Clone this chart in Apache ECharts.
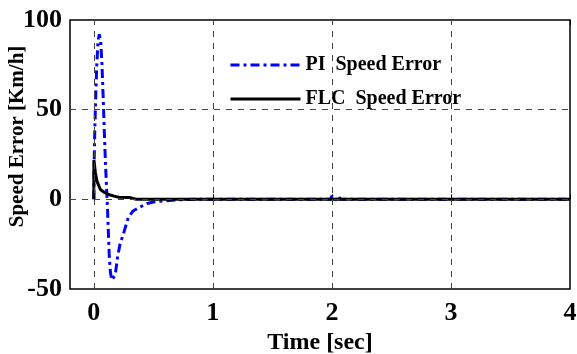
<!DOCTYPE html>
<html><head><meta charset="utf-8">
<script src="https://cdn.jsdelivr.net/npm/echarts@6/dist/echarts.min.js"></script>
<style>html,body{margin:0;padding:0;background:#fff}#c{width:577px;height:354px}</style>
</head><body><div id="c"></div>
<script>
const piTime  = [0, 0.003, 0.008, 0.015, 0.025, 0.035, 0.046, 0.058, 0.068, 0.078, 0.088, 0.098, 0.108, 0.115, 0.122, 0.13, 0.14, 0.152, 0.166, 0.18, 0.2, 0.22, 0.25, 0.29, 0.33, 0.38, 0.45, 0.5, 0.6, 0.7, 0.85, 1.0, 1.5, 1.99, 2.0, 2.01, 2.05, 2.06, 2.07, 2.5, 3.0, 3.5, 4.0];
const piValue = [0, 20, 38, 55, 75, 88, 92, 88, 76, 58, 38, 20, 5, -5, -18, -32, -41, -45, -46, -42, -32, -25, -19, -10, -6.5, -4.5, -2.3, -1.5, -0.8, -0.3, 0, 0, 0, 0, 2, 0, 0, 1.5, 0, 0, 0, 0, 0];
const flcTime  = [0, 0.001, 0.006, 0.013, 0.027, 0.055, 0.09, 0.125, 0.17, 0.21, 0.3, 0.33, 0.36, 0.5, 1.0, 1.99, 2.0, 2.01, 3.0, 4.0];
const flcValue = [0, 22, 19, 15, 10, 5.5, 3.8, 2.7, 1.8, 1.2, 1.0, 0.5, 0, 0, 0, 0, 0.8, 0, 0, 0];
const xTicks = [0, 1, 2, 3, 4];
const xGrid = [0, 1, 2, 3];
const yGrid = [0, 50];
const seriesNames = ['PI  Speed Error', 'FLC  Speed Error'];

const font = "'Liberation Serif','Times New Roman',serif";
const zip = (a, b) => a.map((v, i) => [v, b[i]]);
const chart = echarts.init(document.getElementById('c'));
const gridStyle = { color: '#444', type: [6, 6], width: 1 };
chart.setOption({
  animation: false,
  grid: { left: 70, right: 7, top: 20, bottom: 65, outerBoundsMode: 'none', containLabel: false, show: true, borderColor: '#000', borderWidth: 1.5, backgroundColor: 'transparent' },
  legend: {
    orient: 'vertical', left: 224, top: 50, itemGap: 14, itemWidth: 70, itemHeight: 20,
    itemStyle: { opacity: 0, borderWidth: 0 },
    lineStyle: { width: 3 },
    textStyle: { fontFamily: font, fontWeight: 'bold', fontSize: 20, color: '#000' },
    data: seriesNames
  },
  xAxis: [{
    type: 'value', min: -0.2, max: 4,
    name: 'Time [sec]', nameLocation: 'middle', nameGap: 36,
    nameTextStyle: { fontFamily: font, fontWeight: 'bold', fontSize: 24, color: '#000' },
    axisLine: { show: false },
    axisTick: { inside: true, length: 5, lineStyle: { color: '#000' }, customValues: xTicks },
    axisLabel: { customValues: xTicks, margin: 11, fontFamily: font, fontWeight: 'bold', fontSize: 26, color: '#000' },
    splitLine: { show: false }
  }, {
    type: 'value', min: -0.2, max: 4, position: 'top',
    axisLine: { show: false },
    axisTick: { inside: true, length: 5, lineStyle: { color: '#000' }, customValues: xTicks },
    axisLabel: { show: false },
    splitLine: { show: false }
  }],
  yAxis: {
    type: 'value', min: -50, max: 100, interval: 50,
    name: 'Speed Error [Km/h]', nameLocation: 'middle', nameGap: 42, nameMoveOverlap: false,
    nameTextStyle: { fontFamily: font, fontWeight: 'bold', fontSize: 21, color: '#000', padding: [0, 0, 0, 36] },
    axisLine: { show: false },
    axisTick: { show: false },
    axisLabel: { margin: 8, fontFamily: font, fontWeight: 'bold', fontSize: 26, color: '#000' },
    splitLine: { show: false }
  },
  series: [
    {
      name: 'grid', type: 'line', data: [], silent: true,
      markLine: {
        symbol: 'none', silent: true, label: { show: false },
        lineStyle: gridStyle,
        data: xGrid.map(v => ({ xAxis: v })).concat(yGrid.map(v => ({ yAxis: v })))
      }
    },
    {
      name: seriesNames[0], type: 'line', data: zip(piTime, piValue), symbol: 'none', z: 3,
      lineStyle: { color: '#0000ff', width: 3, type: [9, 4, 3, 4] }, itemStyle: { color: '#0000ff' }
    },
    {
      name: seriesNames[1], type: 'line', data: zip(flcTime, flcValue), symbol: 'none', z: 4,
      lineStyle: { color: '#000', width: 3 }, itemStyle: { color: '#000' }
    }
  ]
});
</script></body></html>
